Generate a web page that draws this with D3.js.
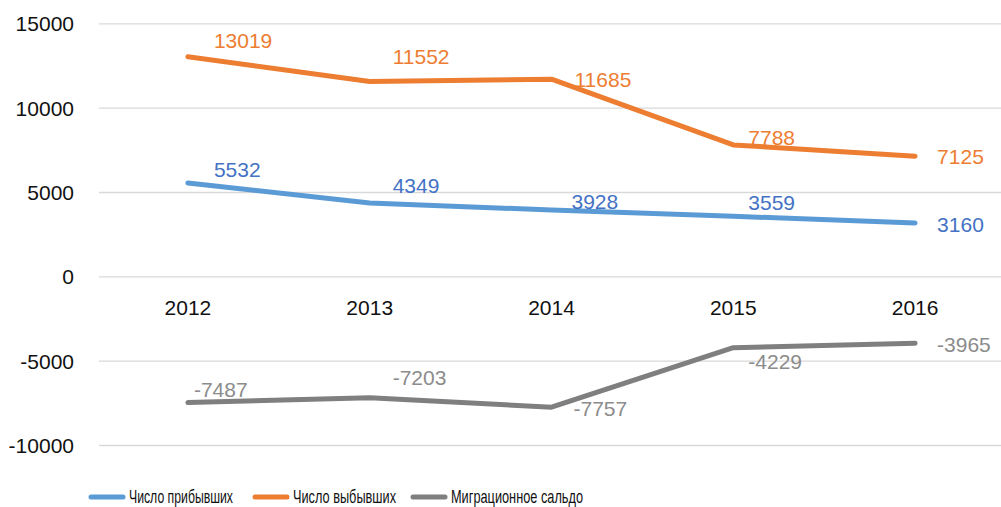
<!DOCTYPE html>
<html>
<head>
<meta charset="utf-8">
<script src="https://cdn.jsdelivr.net/npm/d3@7"></script>
<style>
  body { margin: 0; background: #fff; }
  svg { display: block; }
  .tick text { font-family: 'Liberation Sans', Arial, sans-serif; font-size: 21px; fill: #111; }
  .label { font-family: 'Liberation Sans', Arial, sans-serif; font-size: 21px; }
  .legend text { font-family: 'Liberation Sans', Arial, sans-serif; font-size: 19px; fill: #111; }
</style>
</head>
<body>
<div id="chart"></div>
<script>
const years = ['2012', '2013', '2014', '2015', '2016'];
const arrived = [5532, 4349, 3928, 3559, 3160];
const departed = [13019, 11552, 11685, 7788, 7125];
const balance = [-7487, -7203, -7757, -4229, -3965];
const yTicks = [-10000, -5000, 0, 5000, 10000, 15000];
const seriesNames = ['Число прибывших', 'Число выбывших', 'Миграционное сальдо'];

// label nudges (left edge / baseline relative to the point), as placed in the original
const arrivedLabelOffsets = [[26, -6], [23, -10], [20, -1], [15, -6], [22, 9]];
const departedLabelOffsets = [[26, -9], [23, -17], [23, 8], [15, 0], [22, 8]];
const balanceLabelOffsets = [[6, -6], [23, -13], [22, 9], [15, 21], [22, 9]];

const width = 1001;
const height = 507;

const series = [
  { name: seriesNames[0], values: arrived, offsets: arrivedLabelOffsets, color: '#5B9BD5', labelColor: '#4472C4' },
  { name: seriesNames[1], values: departed, offsets: departedLabelOffsets, color: '#ED7D31', labelColor: '#ED7D31' },
  { name: seriesNames[2], values: balance, offsets: balanceLabelOffsets, color: '#7F7F7F', labelColor: '#8C8C8C' }
];

const svg = d3.select('#chart').append('svg')
  .attr('width', width)
  .attr('height', height);

const x = d3.scaleBand()
  .domain(years)
  .range([97, 1006]);

const y = d3.scaleLinear()
  .domain([-10000, 15000])
  .range([445, 23.3]);

const px = d => x(d) + x.bandwidth() / 2;

// grid + y labels (plain hyphen for negatives, like the original)
const yAxis = svg.append('g')
  .attr('transform', 'translate(99,0)')
  .call(d3.axisLeft(y).tickValues(yTicks).tickSize(-(width - 99)).tickFormat(d => String(d)));
yAxis.select('.domain').remove();
yAxis.selectAll('.tick line').attr('stroke', '#d9d9d9').attr('stroke-width', 1.3);
yAxis.selectAll('.tick text').attr('x', -25).attr('dy', '0.36em');

// category labels sit just below the zero line
const xAxis = svg.append('g')
  .attr('transform', `translate(0,${y(0)})`)
  .call(d3.axisBottom(x).tickSize(0));
xAxis.select('.domain').remove();
xAxis.selectAll('.tick text').attr('y', 0).attr('dy', 39);

const line = d3.line()
  .x((d, i) => px(years[i]))
  .y(d => y(d));

series.forEach(s => {
  svg.append('path')
    .datum(s.values)
    .attr('fill', 'none')
    .attr('stroke', s.color)
    .attr('stroke-width', 5)
    .attr('stroke-linecap', 'round')
    .attr('stroke-linejoin', 'round')
    .attr('d', line);
});

series.forEach(s => {
  svg.append('g')
    .selectAll('text')
    .data(s.values)
    .enter()
    .append('text')
    .attr('class', 'label')
    .attr('fill', s.labelColor)
    .attr('x', (d, i) => px(years[i]) + s.offsets[i][0])
    .attr('y', (d, i) => y(d) + s.offsets[i][1])
    .text(d => String(d));
});

// legend; the original font is condensed, so squeeze text to its width
const legendX = [91, 255, 413];
const legendTextWidth = [104, 103, 132];
const legend = svg.append('g').attr('class', 'legend');
series.forEach((s, i) => {
  legend.append('line')
    .attr('x1', legendX[i]).attr('x2', legendX[i] + 32)
    .attr('y1', 497).attr('y2', 497)
    .attr('stroke', s.color)
    .attr('stroke-width', 5)
    .attr('stroke-linecap', 'round');
  legend.append('text')
    .attr('x', legendX[i] + 38)
    .attr('y', 503)
    .attr('textLength', legendTextWidth[i])
    .attr('lengthAdjust', 'spacingAndGlyphs')
    .text(s.name);
});
</script>
</body>
</html>
